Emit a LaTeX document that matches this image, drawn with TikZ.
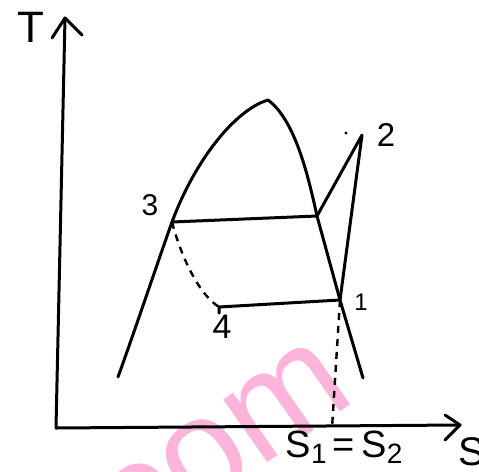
\documentclass[tikz,border=0pt]{standalone}
\usepackage{fontspec}
\setmainfont{Liberation Sans}
\definecolor{wmpink}{RGB}{252,180,218}
\newcommand{\mysub}[1]{{\fontsize{28}{28}\selectfont\raisebox{-6pt}{#1}}}
\begin{document}
\begin{tikzpicture}[x=1pt,y=-1pt,
  ink/.style={line width=3pt,line cap=round,line join=round},
  dashink/.style={line width=2.4pt,dash pattern=on 7pt off 6pt},
  lbl/.style={inner sep=0pt,font=\fontsize{30}{30}\selectfont},
  wm/.style={text=wmpink,inner sep=0pt,font=\fontsize{145}{145}\selectfont,rotate=35}]
\useasboundingbox (0,0) rectangle (479,471);
% watermark
\node[wm] (wmk) at (208,458) {.com};
% coordinates
\coordinate (O) at (56,428);
\coordinate (Ttip) at (65,18);
\coordinate (Tl) at (52,38);
\coordinate (Tr) at (82,35);
\coordinate (Stip) at (460,425);
\coordinate (Su) at (445,415);
\coordinate (Sd) at (445,440);
\coordinate (dl) at (118,377);
\coordinate (p3) at (172,222);
\coordinate (pk) at (268,100);
\coordinate (pg) at (317,216);
\coordinate (p1) at (340,300);
\coordinate (dr) at (363,378);
\coordinate (p2) at (362,135);
\coordinate (p4) at (219,307);
\coordinate (s12) at (332,428);
% axes
\draw[ink] (O) -- (Ttip);
\draw[ink] (Tl) -- (Ttip) -- (Tr);
\draw[ink] (O) -- (Stip);
\draw[ink] (Su) -- (Stip) -- (Sd);
% dome
\draw[ink] (dl) .. controls (135,330) and (155,270) .. (p3)
  .. controls (195,160) and (235,110) .. (pk)
  .. controls (295,120) and (308,175) .. (pg)
  -- (p1) -- (dr);
% cycle
\draw[ink] (p3) -- (pg) -- (p2) -- (p1) -- (p4) -- ++(0,6);
\draw[dashink] (p3) .. controls (182,260) and (200,295) .. (p4);
\draw[dashink] (p1) -- (s12);
\fill (346,133) circle (1.6pt);
% labels
\node[lbl,font=\fontsize{44}{44}\selectfont] (lT) at (31,27) {T};
\node[lbl,font=\fontsize{40}{40}\selectfont,anchor=west] (lS) at (458,452) {S};
\node[lbl] (l3) at (150,205) {3};
\node[lbl,font=\fontsize{33}{33}\selectfont] (l2) at (386,135) {2};
\node[lbl,font=\fontsize{24}{24}\selectfont] (l1) at (361,302) {1};
\node[lbl,font=\fontsize{34}{34}\selectfont] (l4) at (222,327) {4};
\node[lbl,font=\fontsize{38}{38}\selectfont] (ls) at (344,447) {S\mysub{1}\,=\,S\mysub{2}};
\end{tikzpicture}
\end{document}
